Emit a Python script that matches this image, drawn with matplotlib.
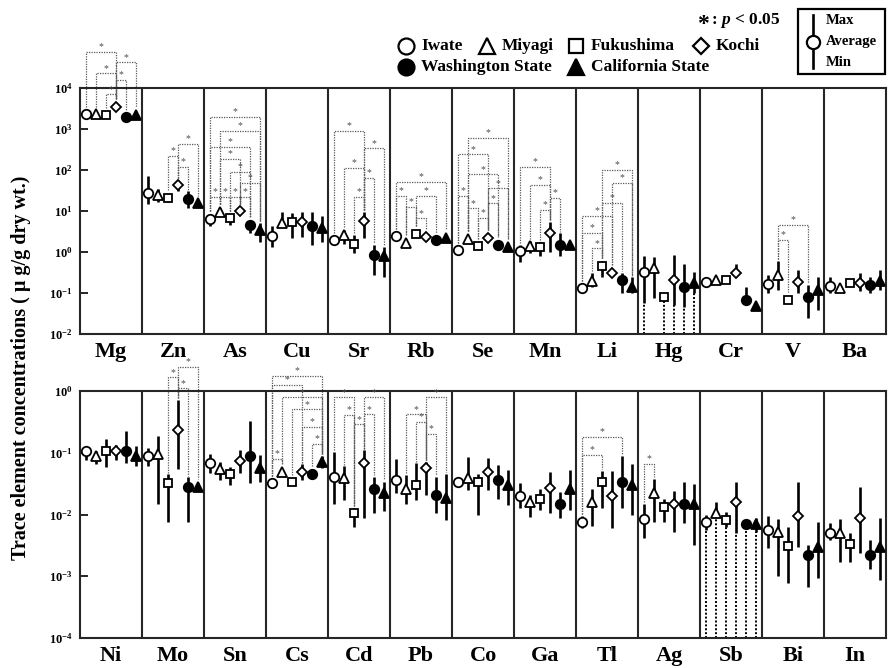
import numpy as np
import matplotlib
matplotlib.use("Agg")
import matplotlib.pyplot as plt
from matplotlib.patches import Rectangle

plt.rcParams['font.family'] = ['Liberation Serif', 'DejaVu Serif']
plt.rcParams['font.weight'] = 'bold'
plt.rcParams['mathtext.fontset'] = 'custom'
plt.rcParams['mathtext.rm'] = 'Liberation Serif:bold'
plt.rcParams['mathtext.bf'] = 'Liberation Serif:bold'
plt.rcParams['mathtext.it'] = 'Liberation Serif:italic:bold'

# sites, in drawing order inside every element panel
sites = ['Iwate', 'Miyagi', 'Fukushima', 'Kochi', 'Washington State', 'California State']

elements_top = ['Mg', 'Zn', 'As', 'Cu', 'Sr', 'Rb', 'Se', 'Mn', 'Li', 'Hg', 'Cr', 'V', 'Ba']
elements_bot = ['Ni', 'Mo', 'Sn', 'Cs', 'Cd', 'Pb', 'Co', 'Ga', 'Tl', 'Ag', 'Sb', 'Bi', 'In']

# ug/g dry wt., one row per element, one column per site
avg_top = [
    [2300, 2300, 2150, 3500, 1950, 2200],
    [28, 24, 21, 43, 19.5, 15.5],
    [6.4, 9.6, 6.6, 10, 4.6, 3.4],
    [2.4, 5.2, 5.5, 5.5, 4.4, 3.8],
    [1.95, 2.6, 1.6, 5.8, 0.85, 0.78],
    [2.4, 1.7, 2.8, 2.3, 1.95, 2.2],
    [1.1, 2.1, 1.4, 2.2, 1.5, 1.35],
    [1.07, 1.4, 1.3, 2.95, 1.5, 1.5],
    [0.13, 0.2, 0.46, 0.31, 0.21, 0.14],
    [0.33, 0.4, 0.078, 0.21, 0.14, 0.18],
    [0.19, 0.21, 0.21, 0.30, 0.068, 0.049],
    [0.17, 0.27, 0.068, 0.19, 0.078, 0.118],
    [0.148, 0.13, 0.18, 0.18, 0.158, 0.2],
]
max_top = [
    [2500, 2500, 2350, 3800, 2100, 2400],
    [72, 35, 26, 57, 30, 18],
    [8.3, 12, 8.5, 12, 6.2, 5.2],
    [4.2, 9.3, 8.7, 9.6, 9.6, 7.5],
    [2.4, 3.4, 2.6, 9.6, 1.5, 1.3],
    [2.8, 2.1, 3.3, 2.7, 2.3, 2.6],
    [1.3, 2.5, 1.7, 2.7, 1.8, 1.7],
    [1.5, 1.9, 1.8, 5.5, 2.9, 1.8],
    [0.15, 0.31, 0.62, 0.36, 0.31, 0.24],
    [0.78, 0.75, 0.078, 0.85, 0.52, 0.33],
    [0.21, 0.25, 0.24, 0.52, 0.14, 0.055],
    [0.28, 0.62, 0.08, 0.36, 0.16, 0.25],
    [0.25, 0.16, 0.2, 0.3, 0.25, 0.36],
]
min_top = [
    [2100, 2100, 1950, 3200, 1800, 2000],
    [15, 17, 16.5, 31, 11.8, 12.5],
    [4.2, 8, 4.6, 8.4, 2.9, 1.8],
    [1.35, 4.2, 2.2, 2.3, 1.5, 1.8],
    [1.6, 1.6, 0.97, 2.2, 0.28, 0.25],
    [2.0, 1.4, 2.3, 1.9, 1.6, 1.9],
    [0.9, 1.8, 1.2, 1.9, 1.3, 1.0],
    [0.58, 0.97, 0.78, 1.0, 0.78, 1.2],
    [0.11, 0.14, 0.25, 0.27, 0.1, 0.1],
    [0.056, 0.074, 0.078, 0.052, 0.045, 0.1],
    [0.17, 0.18, 0.18, 0.26, 0.06, 0.043],
    [0.1, 0.12, 0.06, 0.1, 0.025, 0.039],
    [0.1, 0.11, 0.16, 0.11, 0.1, 0.12],
]

avg_bot = [
    [0.108, 0.087, 0.108, 0.107, 0.108, 0.087],
    [0.087, 0.095, 0.032, 0.233, 0.0275, 0.028],
    [0.067, 0.054, 0.045, 0.074, 0.087, 0.056],
    [0.032, 0.049, 0.033, 0.048, 0.046, 0.072],
    [0.041, 0.039, 0.0105, 0.067, 0.026, 0.0225],
    [0.036, 0.026, 0.03, 0.057, 0.021, 0.0187],
    [0.034, 0.039, 0.033, 0.048, 0.036, 0.03],
    [0.0203, 0.0157, 0.018, 0.027, 0.0148, 0.0255],
    [0.0076, 0.0161, 0.034, 0.02, 0.033, 0.03],
    [0.0085, 0.022, 0.013, 0.015, 0.0148, 0.0148],
    [0.0075, 0.0107, 0.0082, 0.0161, 0.0069, 0.0069],
    [0.0056, 0.0052, 0.0031, 0.0095, 0.0022, 0.003],
    [0.005, 0.0051, 0.0033, 0.0087, 0.0022, 0.003],
]
max_bot = [
    [0.13, 0.105, 0.17, 0.135, 0.225, 0.13],
    [0.12, 0.187, 0.045, 0.72, 0.04, 0.032],
    [0.095, 0.072, 0.058, 0.11, 0.33, 0.092],
    [0.035, 0.053, 0.036, 0.065, 0.05, 0.09],
    [0.104, 0.061, 0.0127, 0.11, 0.041, 0.034],
    [0.078, 0.044, 0.067, 0.07, 0.041, 0.046],
    [0.04, 0.084, 0.045, 0.083, 0.063, 0.052],
    [0.032, 0.021, 0.026, 0.049, 0.0235, 0.052],
    [0.0095, 0.026, 0.051, 0.051, 0.089, 0.066],
    [0.015, 0.038, 0.018, 0.024, 0.033, 0.031],
    [0.0098, 0.016, 0.011, 0.033, 0.0069, 0.0087],
    [0.0093, 0.0085, 0.0063, 0.033, 0.0032, 0.0076],
    [0.0074, 0.0084, 0.005, 0.028, 0.0039, 0.0088],
]
min_bot = [
    [0.076, 0.065, 0.059, 0.075, 0.067, 0.06],
    [0.06, 0.015, 0.0076, 0.054, 0.0076, 0.025],
    [0.047, 0.036, 0.03, 0.047, 0.032, 0.034],
    [0.029, 0.045, 0.03, 0.036, 0.042, 0.057],
    [0.015, 0.017, 0.0063, 0.0087, 0.0105, 0.0115],
    [0.022, 0.015, 0.017, 0.021, 0.0105, 0.0081],
    [0.03, 0.025, 0.0098, 0.025, 0.018, 0.014],
    [0.0126, 0.0092, 0.012, 0.0105, 0.0087, 0.012],
    [0.006, 0.0065, 0.0126, 0.006, 0.0126, 0.0098],
    [0.0041, 0.0076, 0.0075, 0.0053, 0.0074, 0.0032],
    [0.0056, 0.0087, 0.0063, 0.005, 0.0069, 0.0052],
    [0.0029, 0.001, 0.00077, 0.003, 0.00068, 0.00093],
    [0.0039, 0.0017, 0.0017, 0.0024, 0.0013, 0.00087],
]

# minimum below detection limit (dotted down to the axis)
nd_top = {'Hg': [0, 2, 3, 4, 5]}
nd_bot = {'Sb': [0, 1, 2, 3, 4, 5]}

# significant pairs (element, site i, site j, bracket height)
sig_top = [
    ('Mg', 0, 3, 76000), ('Mg', 3, 5, 42600), ('Mg', 1, 3, 22800), ('Mg', 3, 4, 15700), ('Mg', 2, 3, 7000),
    ('Zn', 3, 5, 430), ('Zn', 2, 3, 223), ('Zn', 3, 4, 120),
    ('As', 0, 5, 2000), ('As', 1, 5, 890), ('As', 0, 4, 372), ('As', 1, 3, 185), ('As', 2, 4, 89),
    ('As', 3, 5, 48), ('As', 0, 1, 22), ('As', 1, 2, 22), ('As', 2, 3, 22), ('As', 3, 4, 22),
    ('Sr', 0, 3, 890), ('Sr', 3, 5, 338), ('Sr', 1, 3, 114), ('Sr', 3, 4, 65), ('Sr', 2, 3, 22),
    ('Rb', 0, 5, 52), ('Rb', 0, 1, 23.6), ('Rb', 2, 4, 23.6), ('Rb', 1, 2, 12.7), ('Rb', 2, 3, 6.6),
    ('Se', 1, 5, 614), ('Se', 0, 3, 242), ('Se', 1, 4, 78.5), ('Se', 3, 5, 35.8), ('Se', 0, 1, 23.2),
    ('Se', 3, 4, 15.4), ('Se', 1, 2, 11.6), ('Se', 2, 3, 6.9),
    ('Mn', 0, 3, 120), ('Mn', 1, 3, 43), ('Mn', 3, 4, 21), ('Mn', 2, 3, 10.6),
    ('Li', 2, 5, 100), ('Li', 3, 5, 48), ('Li', 2, 4, 15.9), ('Li', 0, 3, 7.6), ('Li', 0, 2, 2.96), ('Li', 1, 2, 1.23),
    ('V', 1, 4, 4.6), ('V', 1, 2, 1.96),
]
sig_bot = [
    ('Mo', 3, 5, 2.48), ('Mo', 2, 3, 1.67), ('Mo', 3, 4, 1.1),
    ('Cs', 0, 5, 1.75), ('Cs', 0, 3, 1.25), ('Cs', 1, 5, 0.79), ('Cs', 2, 5, 0.506),
    ('Cs', 3, 5, 0.264), ('Cs', 4, 5, 0.139), ('Cs', 0, 1, 0.079),
    ('Cd', 0, 2, 0.79), ('Cd', 3, 5, 0.79), ('Cd', 1, 2, 0.41), ('Cd', 3, 4, 0.42), ('Cd', 2, 3, 0.289),
    ('Pb', 3, 5, 0.79), ('Pb', 1, 3, 0.42), ('Pb', 2, 3, 0.315), ('Pb', 3, 4, 0.204),
    ('Tl', 0, 4, 0.182), ('Tl', 0, 2, 0.092),
    ('Ag', 0, 1, 0.066),
]

markers = ['o', '^', 's', 'D', 'o', '^']
faces = ['white', 'white', 'white', 'white', 'black', 'black']
msizes = [6.8, 7.2, 6.2, 5.0, 6.8, 7.2]
STEP = 10 / 62.0
DOT = (0, (1, 1))


def xpos(k, i):
    return k + 0.5 + (i - 2.5) * STEP


def draw_panel(ax, elements, avg, lo, hi, nd, sig, ylim):
    ax.set_yscale('log')
    ax.set_ylim(*ylim)
    ax.set_xlim(0, len(elements))
    for k in range(1, len(elements)):
        ax.axvline(k, color='0.15', lw=1.5, zorder=1)
    for sp in ax.spines.values():
        sp.set_linewidth(1.5)
        sp.set_color('0.15')
    for k, el in enumerate(elements):
        for i in range(6):
            x = xpos(k, i)
            ax.plot([x, x], [lo[k][i], hi[k][i]], color='k', lw=1.9,
                    solid_capstyle='butt', zorder=2)
            if i in nd.get(el, []):
                ax.plot([x, x], [ylim[0], lo[k][i]], color='k', lw=1.4, ls=DOT, zorder=2)
            ax.plot(x, avg[k][i], marker=markers[i], ms=msizes[i], mfc=faces[i],
                    mec='k', mew=1.3, ls='none', zorder=3)

    ax.set_xticks(np.arange(len(elements)) + 0.5, elements)
    ax.tick_params(axis='x', length=0, labelsize=16, pad=6)
    decs = range(int(np.log10(ylim[0])), int(np.log10(ylim[1])) + 1)
    ax.set_yticks([10.0 ** d for d in decs], [r'$\mathbf{10^{%d}}$' % d for d in decs])
    ax.yaxis.set_minor_locator(plt.NullLocator())
    ax.tick_params(axis='y', direction='in', length=6, width=1.2, labelsize=9, pad=5)

    # pixels per decade, to keep bracket feet just above markers
    h_px = ax.get_position().height * fig.get_figheight() * fig.dpi
    ppd = h_px / np.log10(ylim[1] / ylim[0])

    def foot(k, i):
        return max(hi[k][i], avg[k][i] * 10 ** (6 / ppd)) * 10 ** (1.5 / ppd)

    for el, i, j, h in sig:
        k = elements.index(el)
        xi, xj = xpos(k, i), xpos(k, j)
        ax.plot([xi, xi, xj, xj], [foot(k, i), h, h, foot(k, j)], color='0.35',
                lw=0.9, ls=DOT, zorder=1.5, clip_on=False)
        ax.text((xi + xj) / 2, h * 10 ** (0.5 / ppd), '*', ha='center', va='bottom',
                fontsize=7, fontweight='normal', color='0.3')


fig = plt.figure(figsize=(8.88, 6.68), dpi=100)
ax_top = fig.add_axes([80 / 888, 1 - 334 / 668, 806 / 888, 246 / 668])
ax_bot = fig.add_axes([80 / 888, 1 - 638 / 668, 806 / 888, 247 / 668])

draw_panel(ax_top, elements_top, avg_top, min_top, max_top, nd_top, sig_top, (1e-2, 1e4))
draw_panel(ax_bot, elements_bot, avg_bot, min_bot, max_bot, nd_bot, sig_bot, (1e-4, 1e0))

fig.text(21 / 888, 1 - 368 / 668, 'Trace element concentrations ( \u03bc g/g dry wt.)',
         rotation=90, ha='center', va='center', fontsize=14.5, fontweight='bold')

# legend, drawn in pixel coordinates
lg = fig.add_axes([0, 0, 1, 1])
lg.set_xlim(0, 888)
lg.set_ylim(668, 0)
lg.axis('off')

leg_rows = [[(406, 46, 0), (487, 46, 1), (576, 46, 2), (701, 46, 3)],
            [(406, 67, 4), (576, 67, 5)]]
leg_ms = [11.5, 12, 10.5, 8.5, 11.5, 12]
for row in leg_rows:
    for x, y, i in row:
        lg.plot(x, y, marker=markers[i], ms=leg_ms[i], mfc=faces[i], mec='k', mew=1.6)
        lg.text(x + 15, y, sites[i], ha='left', va='center', fontsize=12.5, fontweight='bold')

lg.text(703, 25, '*', ha='center', va='center', fontsize=17, fontweight='bold')
lg.text(711, 21, r': $\mathit{p}$ < 0.05', ha='left', va='center', fontsize=12.5, fontweight='bold')

lg.add_patch(Rectangle((798, 9), 87, 65, fill=False, lw=1.6, ec='k'))
lg.plot([813, 813], [15, 68], color='k', lw=1.9)
lg.plot(813, 42, marker='o', ms=9.5, mfc='white', mec='k', mew=1.6)
for y, s in [(20, 'Max'), (42, 'Average'), (63, 'Min')]:
    lg.text(826, y, s, ha='left', va='center', fontsize=10.5, fontweight='bold')

fig.savefig('out.png', dpi=100)
